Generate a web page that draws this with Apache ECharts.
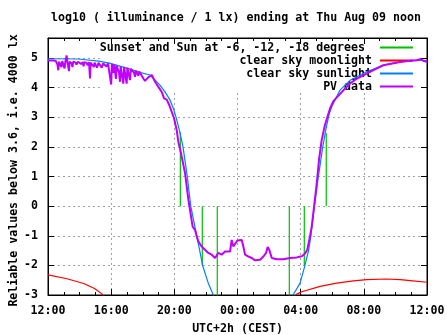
<!DOCTYPE html>
<html><head><meta charset="utf-8">
<script src="https://cdn.jsdelivr.net/npm/echarts@6/dist/echarts.min.js"></script>
<style>html,body{margin:0;padding:0;background:#fff}#c{width:447px;height:335px}</style>
</head><body><div id="c"></div>
<script>
// x values are hours after Wed 12:00 (CEST)
const titleText = 'log10 ( illuminance / 1 lx) ending at Thu Aug 09 noon';
const xAxisName = 'UTC+2h (CEST)';
const yAxisName = 'Reliable values below 3.6, i.e. 4000 lx';
const xTickLabels = ['12:00', '16:00', '20:00', '00:00', '04:00', '08:00', '12:00'];
const seriesNames = ['Sunset and Sun at -6, -12, -18 degrees ', 'clear sky moonlight', 'clear sky sunlight', 'PV data'];

// sunset / twilight markers: [hour, value at far end]; each drawn from value 0
const sunEvents = [[8.38, 2.5], [9.77, -2.0], [10.72, -3.5], [15.28, -3.5], [16.23, -2.0], [17.62, 2.47]];

const moonEvening = [[0, -2.32], [1.2, -2.45], [2.26, -2.61], [2.95, -2.78], [3.43, -2.97], [3.6, -3.08]];
const moonMorning = [[15.6, -3.05], [15.75, -2.97], [16.07, -2.89], [17.23, -2.71], [18.28, -2.6], [19.34, -2.52],
  [20.18, -2.48], [21.45, -2.46], [22.3, -2.48], [23.1, -2.52], [24, -2.57]];

const sunEvening = [[0, 4.98], [1.9, 4.97], [1.95, 4.93], [3.19, 4.9], [3.82, 4.84], [4.5, 4.74], [5.2, 4.63],
  [5.8, 4.52], [6.46, 4.43], [6.78, 4.26], [7.09, 4.09], [7.41, 3.86], [7.73, 3.58], [7.94, 3.3], [8.11, 3.0],
  [8.32, 2.57], [8.55, 2.0], [8.82, 1.0], [9.04, 0], [9.42, -1], [9.8, -2.02], [10.15, -2.6], [10.47, -3], [10.7, -3.4]];
const sunMorning = [[15.3, -3.4], [15.52, -3], [15.96, -2.6], [16.25, -2.04], [16.5, -1.5], [16.65, -1], [16.87, 0],
  [17.12, 1], [17.4, 2], [17.6, 2.6], [17.8, 3.1], [17.97, 3.36], [18.49, 3.92], [19.13, 4.25], [20.18, 4.54],
  [21.23, 4.76], [22.29, 4.87], [23.35, 4.93], [24, 4.92]];

const pvData = [[0, 4.92], [0.1, 4.9], [0.2, 4.92], [0.3, 4.88], [0.35, 4.92], [0.5, 4.9], [0.6, 4.78], [0.65, 4.59],
  [0.7, 4.88], [0.8, 4.85], [0.85, 4.7], [0.9, 4.9], [1.0, 4.86], [1.05, 4.65], [1.1, 4.88], [1.18, 5.09], [1.22, 4.9],
  [1.3, 4.85], [1.33, 4.56], [1.37, 4.88], [1.5, 4.82], [1.55, 4.7], [1.6, 4.88], [1.75, 4.85], [1.8, 4.78], [1.9, 4.88],
  [2.0, 4.87], [2.1, 4.8], [2.2, 4.87], [2.25, 4.72], [2.3, 4.86], [2.45, 4.84], [2.5, 4.76], [2.6, 4.86], [2.66, 4.31],
  [2.7, 4.85], [2.8, 4.82], [2.9, 4.7], [2.95, 4.85], [3.05, 4.8], [3.1, 4.68], [3.2, 4.84], [3.3, 4.78], [3.4, 4.68],
  [3.5, 4.82], [3.6, 4.8], [3.7, 4.72], [3.8, 4.82], [3.9, 4.78], [4.0, 4.11], [4.05, 4.8], [4.1, 4.7], [4.15, 4.5],
  [4.2, 4.78], [4.3, 4.3], [4.35, 4.75], [4.45, 4.7], [4.5, 4.5], [4.56, 4.2], [4.6, 4.72], [4.7, 4.68], [4.77, 4.14],
  [4.82, 4.7], [4.9, 4.66], [4.98, 4.14], [5.03, 4.68], [5.1, 4.62], [5.19, 4.26], [5.25, 4.64], [5.35, 4.6],
  [5.45, 4.5], [5.51, 4.37], [5.56, 4.58], [5.65, 4.55], [5.72, 4.4], [5.78, 4.55], [5.83, 4.54], [6.04, 4.31],
  [6.14, 4.23], [6.35, 4.35], [6.57, 4.43], [6.78, 4.2], [6.99, 4.03], [7.2, 3.86], [7.35, 3.64], [7.52, 3.6],
  [7.68, 3.41], [7.83, 3.19], [7.98, 2.97], [8.15, 2.57], [8.25, 2.18], [8.36, 1.95], [8.68, 1.11], [8.89, 0.21],
  [8.99, -0.12], [9.16, -0.69], [9.31, -0.8], [9.42, -1.02], [9.52, -1.19], [9.73, -1.36], [9.94, -1.47],
  [10.15, -1.58], [10.37, -1.64], [10.58, -1.75], [10.78, -1.58], [11.0, -1.64], [11.21, -1.53], [11.53, -1.53],
  [11.63, -1.14], [11.74, -1.36], [11.84, -1.42], [11.99, -1.16], [12.27, -1.14], [12.37, -1.36], [12.48, -1.64],
  [12.69, -1.7], [12.9, -1.75], [13.11, -1.83], [13.43, -1.81], [13.64, -1.7], [13.81, -1.58], [13.91, -1.38],
  [14.01, -1.47], [14.17, -1.75], [14.48, -1.79], [14.9, -1.79], [15.33, -1.75], [15.75, -1.73], [16.07, -1.69],
  [16.28, -1.6], [16.42, -1.47], [16.59, -1.02], [16.7, -0.69], [16.85, -0.01], [17.02, 0.78], [17.16, 1.56],
  [17.33, 2.23], [17.54, 2.75], [17.86, 3.3], [18.07, 3.55], [18.6, 3.85], [19.13, 4.15], [19.6, 4.32], [20.18, 4.48],
  [20.7, 4.62], [21.23, 4.76], [21.8, 4.82], [22.29, 4.87], [22.8, 4.9], [23.35, 4.93], [23.6, 4.97], [23.8, 4.9],
  [24, 4.88]];

const FONT = 'DejaVu Sans Mono';
const txt = { fontFamily: FONT, fontWeight: 'bold', fontSize: 11.6, color: '#000' };
const COLORS = ['#00c000', '#ff0000', '#0080ff', '#c000ff'];

const series = [];
sunEvents.forEach(function (e) {
  series.push({ name: seriesNames[0], type: 'line', symbol: 'none', animation: false,
    lineStyle: { color: COLORS[0], width: 1.2 }, itemStyle: { color: COLORS[0] },
    data: [[e[0], 0], [e[0], e[1]]] });
});
[moonEvening, moonMorning].forEach(function (d) {
  series.push({ name: seriesNames[1], type: 'line', symbol: 'none', animation: false,
    lineStyle: { color: COLORS[1], width: 1.2 }, itemStyle: { color: COLORS[1] }, data: d });
});
[sunEvening, sunMorning].forEach(function (d) {
  series.push({ name: seriesNames[2], type: 'line', symbol: 'none', animation: false,
    lineStyle: { color: COLORS[2], width: 1.2 }, itemStyle: { color: COLORS[2] }, data: d });
});
series.push({ name: seriesNames[3], type: 'line', symbol: 'none', animation: false,
  lineStyle: { color: COLORS[3], width: 2 }, itemStyle: { color: COLORS[3] }, data: pvData });

const gridLine = { show: true, lineStyle: { color: '#a0a0a0', type: [2, 3], width: 1 } };
const xLabel = function (v) { return (Math.abs(v % 4) < 1e-9) ? xTickLabels[Math.round(v / 4)] : ''; };
const yLabel = function (v) { return Number.isInteger(v) ? String(v) : ''; };
const axLine = { show: true, onZero: false, lineStyle: { color: '#000' } };

const chart = echarts.init(document.getElementById('c'), null, { renderer: 'canvas' });
chart.setOption({
  animation: false,
  backgroundColor: '#fff',
  title: { text: titleText, left: 51, top: 12, padding: 0,
    textStyle: Object.assign({}, txt) },
  legend: {
    data: seriesNames, orient: 'vertical', align: 'right', right: 26, top: 39,
    padding: [2, 7, 0, 0], itemGap: 0, itemWidth: 33, itemHeight: 13, selectedMode: false,
    backgroundColor: '#fff', z: 1,
    itemStyle: { opacity: 0 },
    textStyle: Object.assign({ lineHeight: 13, padding: [0, 3, 0, 0] }, txt)
  },
  grid: { left: 48, right: 20, top: 38, bottom: 40, show: true, borderColor: '#000', borderWidth: 1,
    backgroundColor: 'transparent', outerBoundsMode: 'none' },
  xAxis: [{
    type: 'value', min: 0, max: 24, interval: 4, position: 'bottom',
    name: xAxisName, nameLocation: 'middle', nameGap: 28, nameMoveOverlap: false,
    nameTextStyle: Object.assign({}, txt),
    axisLine: axLine,
    axisTick: { show: true, inside: true, length: 6, lineStyle: { color: '#000' } },
    minorTick: { show: true, splitNumber: 4, length: 3, lineStyle: { color: '#000' } },
    axisLabel: Object.assign({ formatter: xLabel, margin: 10 }, txt),
    splitLine: gridLine
  }, {
    type: 'value', min: 0, max: 24, interval: 4, position: 'top', z: 3,
    axisLine: axLine,
    axisTick: { show: true, inside: true, length: 6, lineStyle: { color: '#000' } },
    minorTick: { show: true, splitNumber: 4, length: 3, lineStyle: { color: '#000' } },
    axisLabel: { show: false }, splitLine: { show: false }
  }],
  yAxis: [{
    type: 'value', min: -3, max: 5.68, interval: 1, position: 'left',
    name: yAxisName, nameLocation: 'middle', nameGap: 28.5, nameRotate: 90, nameMoveOverlap: false,
    nameTextStyle: Object.assign({ padding: [0, 8, 0, 0] }, txt),
    axisLine: axLine,
    axisTick: { show: true, inside: true, length: 6, lineStyle: { color: '#000' } },
    axisLabel: Object.assign({ formatter: yLabel, margin: 10 }, txt),
    splitLine: gridLine
  }, {
    type: 'value', min: -3, max: 5.68, interval: 1, position: 'right', z: 3,
    axisLine: axLine,
    axisTick: { show: true, inside: true, length: 6, lineStyle: { color: '#000' } },
    axisLabel: { show: false }, splitLine: { show: false }
  }],
  series: series
});
</script></body></html>
